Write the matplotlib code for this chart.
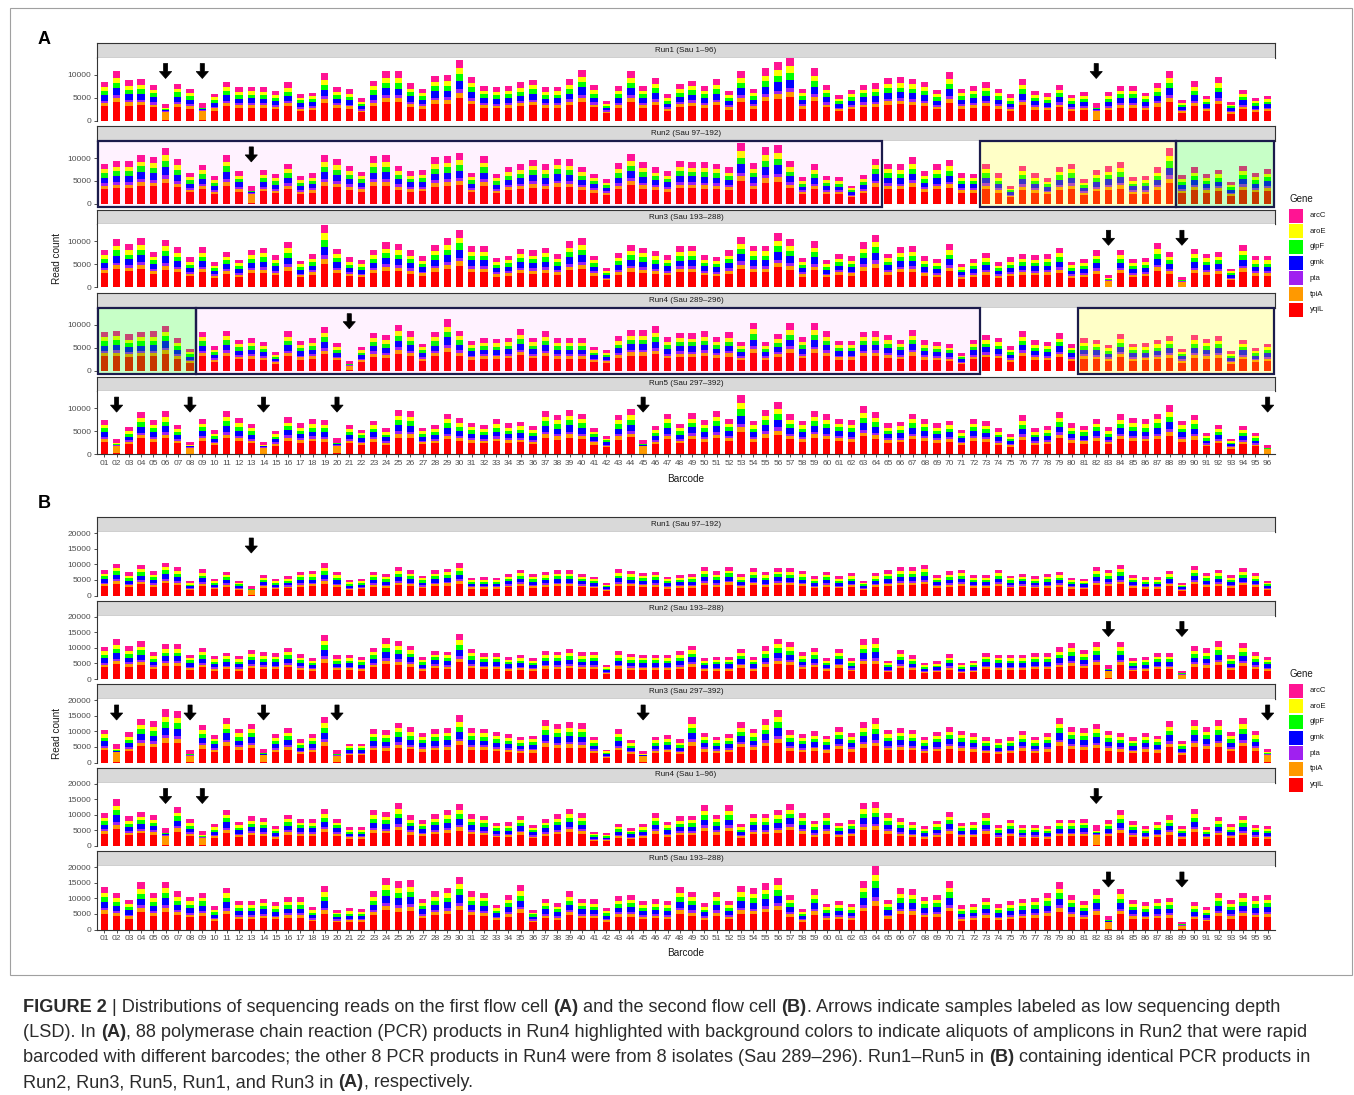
import numpy as np
import matplotlib
matplotlib.use('Agg')
import matplotlib.pyplot as plt
from matplotlib.patches import Rectangle, Polygon
from matplotlib.transforms import blended_transform_factory
from matplotlib.font_manager import FontProperties

plt.rcParams['font.family'] = ['Liberation Sans', 'DejaVu Sans']

# ---------------- data ----------------
GENES = ['yqiL', 'tpiA', 'pta', 'gmk', 'glpF', 'aroE', 'arcC']          # bottom -> top
GENE_COLORS = ['#FF0000', '#FF9900', '#A020F0', '#0000FF', '#00FF00', '#FFFF00', '#FF1493']
NORMAL_FRAC = [0.37, 0.08, 0.06, 0.14, 0.11, 0.10, 0.14]
LSD_FRAC = [0.04, 0.50, 0.04, 0.05, 0.06, 0.04, 0.27]
barcodes = [f'{i:02d}' for i in range(1, 97)]

A_titles = ['Run1 (Sau 1\u201396)', 'Run2 (Sau 97\u2013192)', 'Run3 (Sau 193\u2013288)',
            'Run4 (Sau 289\u2013296)', 'Run5 (Sau 297\u2013392)']
B_titles = ['Run1 (Sau 97\u2013192)', 'Run2 (Sau 193\u2013288)', 'Run3 (Sau 297\u2013392)',
            'Run4 (Sau 1\u201396)', 'Run5 (Sau 193\u2013288)']

A_run1 = [8500, 10900, 8800, 8950, 7750, 3600, 8050, 6900, 3850, 5850,
          8400, 7300, 7400, 7300, 6500, 8300, 5800, 6100, 10300, 7300,
          6800, 4800, 8700, 10800, 10700, 8100, 6900, 9800, 10000, 13300,
          9500, 7500, 7200, 7600, 8300, 8900, 7300, 7400, 9000, 11100,
          7700, 4300, 7500, 10800, 7500, 9200, 5700, 8000, 8650, 7500,
          8950, 6450, 10900, 6900, 11400, 12800, 13740, 6900, 11400, 7750,
          5550, 6700, 7750, 8100, 9300, 9450, 9150, 8500, 6700, 10600,
          6900, 7600, 8350, 6900, 5700, 8950, 6450, 5950, 7750, 5650,
          6250, 3850, 6300, 7600, 7500, 6100, 8250, 10800, 4450, 8550,
          5400, 9450, 4050, 6750, 4950, 5400]
A_run2 = [8750, 9350, 9350, 10750, 10300, 12300, 9800, 6800, 8500, 6000,
          10750, 7200, 4000, 7350, 6450, 8750, 6000, 6650, 10600, 9850,
          8300, 7050, 10450, 10600, 8300, 7200, 7350, 10150, 10450, 11050,
          6800, 10450, 6450, 8100, 8600, 9650, 8600, 9900, 9700, 8100,
          6600, 5350, 8850, 10900, 9050, 7950, 7200, 9350, 9200, 9050,
          8750, 7950, 13300, 8900, 12450, 12900, 9250, 5800, 8600, 6000,
          5800, 4000, 6350, 9900, 8800, 8600, 10150, 7100, 8600, 9500,
          6650, 6600, 8750, 6650, 3900, 8300, 6650, 5650, 8150, 8800,
          5400, 7400, 8200, 9050, 5850, 6000, 7950, 12200, 6350, 7950,
          6600, 7500, 4800, 8350, 6800, 7650]
A_run3 = [8200, 10600, 9350, 10750, 7800, 10350, 8750, 6500, 8750, 5500,
          7800, 6050, 8200, 8600, 7050, 9850, 5800, 7200, 13650, 8450,
          6500, 5900, 8200, 9800, 9350, 8050, 6750, 9200, 10750, 12600,
          9050, 9050, 6350, 6900, 8450, 8050, 8600, 7200, 10050, 10800,
          6900, 4150, 7500, 9200, 8600, 7950, 7050, 8900, 9100, 7050,
          6650, 8050, 11050, 9100, 9100, 11800, 10450, 6350, 10050, 5900,
          7200, 6750, 9800, 11500, 7350, 8750, 8900, 6750, 6200, 9350,
          5100, 6200, 7400, 5500, 6500, 7250, 7050, 7200, 8600, 5550,
          6200, 8050, 2650, 8200, 6200, 6450, 9650, 7800, 2300, 8450,
          7350, 7700, 4050, 9200, 6800, 6800]
A_run4 = [8450, 8750, 7900, 8450, 8600, 9850, 7050, 4750, 8450, 5350,
          8750, 6750, 7050, 6350, 4000, 8600, 6450, 7050, 9550, 6050,
          2050, 5200, 8300, 7700, 10050, 8600, 5900, 8450, 11200, 8750,
          6450, 7050, 6900, 7200, 9050, 7200, 8600, 7050, 7050, 7050,
          5200, 4600, 7500, 8900, 8900, 9650, 7350, 8300, 8150, 8650,
          7400, 8350, 6200, 10450, 6350, 8000, 10350, 7250, 10300, 8650,
          6500, 6500, 8500, 8650, 7700, 6800, 8900, 6600, 6200, 5800,
          3850, 6800, 7800, 7200, 5350, 8650, 6600, 6300, 8150, 5850,
          7050, 6800, 5700, 8050, 5900, 6050, 6650, 7550, 4800, 7700,
          6950, 7600, 4200, 6800, 4950, 5900]
A_run5 = [7400, 3300, 5900, 9200, 7400, 9350, 6400, 2650, 7700, 5200,
          9400, 7850, 6550, 2650, 5050, 8000, 6700, 7550, 7400, 3450,
          6250, 5350, 7300, 5600, 9700, 9500, 5750, 6400, 8800, 7850,
          6800, 6300, 7550, 6700, 7050, 6100, 9500, 8550, 9650, 8800,
          5650, 3950, 8550, 9850, 3100, 6100, 8800, 6550, 8950, 7400,
          9400, 7650, 12950, 7300, 9700, 11400, 8700, 7300, 9500, 8700,
          7700, 7400, 10450, 9100, 6700, 7000, 8800, 7700, 6700, 7300,
          5300, 7700, 7150, 5600, 4350, 8450, 5600, 6050, 9250, 6700,
          6200, 7650, 5900, 8700, 7850, 7550, 8800, 10750, 7300, 8550,
          4550, 6400, 3300, 6050, 4550, 1900]

B_run1 = [8100, 10250, 7400, 9850, 7800, 10600, 9000, 4500, 8450, 5350,
          7700, 4700, 3000, 6500, 5350, 6300, 7700, 7900, 10350, 7500,
          4900, 5250, 7700, 6850, 9100, 8100, 6400, 8100, 8650, 10350,
          5750, 5900, 5750, 7050, 8350, 6850, 7600, 8100, 8100, 7050,
          6100, 4050, 8450, 7900, 7300, 7700, 6000, 6500, 6850, 9000,
          7800, 9300, 6750, 8750, 7500, 8900, 8750, 7900, 6200, 7700,
          6200, 7150, 4800, 7150, 8100, 9000, 9100, 9850, 6650, 7800,
          8350, 6650, 6500, 8250, 6400, 6950, 6300, 6850, 7600, 5750,
          5450, 9000, 8250, 9850, 6650, 5900, 5900, 8000, 4050, 9600,
          7300, 8350, 6650, 8750, 7150, 4800]
B_run2 = [10300, 12800, 10550, 12050, 8600, 11200, 11200, 7850, 10100, 7300,
          8500, 7300, 9250, 8600, 8300, 10100, 7950, 6900, 14200, 7550,
          7750, 7100, 10000, 13100, 12350, 10650, 7000, 9150, 8800, 14400,
          9550, 8400, 8400, 7200, 7750, 6800, 9050, 8800, 9550, 8600,
          8800, 4400, 9050, 8150, 7850, 7850, 7750, 8900, 10750, 6900,
          7200, 7200, 9700, 7200, 10450, 13000, 11950, 8600, 10000, 6900,
          9700, 6650, 12700, 13100, 5800, 9250, 7550, 5150, 5700, 7950,
          5150, 5900, 8300, 7850, 7750, 7750, 8300, 8300, 10200, 11600,
          9350, 11950, 4500, 11950, 6650, 7100, 8400, 8400, 2600, 10450,
          9800, 12050, 7550, 11500, 8600, 7200]
B_run3 = [10550, 6000, 9650, 14100, 13250, 17150, 16600, 3900, 12150, 8900,
          14350, 10850, 12400, 4250, 9000, 11000, 7400, 9000, 14650, 3900,
          6100, 6100, 10650, 10300, 12850, 11300, 9550, 10650, 11100, 15100,
          11100, 10850, 9800, 9000, 8350, 8600, 13800, 12500, 12950, 12700,
          8250, 4150, 10650, 7150, 3600, 8250, 8800, 7400, 14550, 9550,
          8250, 9250, 13050, 10850, 13900, 16950, 10300, 9250, 10000, 8600,
          11500, 9550, 12950, 14250, 10550, 11200, 10550, 8250, 9900, 11500,
          10200, 9550, 8050, 7400, 8050, 10100, 8250, 9450, 14450, 11500,
          11000, 12500, 10200, 9450, 8150, 9450, 8600, 13350, 6850, 13600,
          11500, 13800, 9800, 14250, 10100, 4450]
B_run4 = [10500, 15100, 9500, 10900, 9850, 5900, 12500, 8550, 4800, 6950,
          11650, 7800, 9500, 8900, 6500, 9950, 8750, 8650, 12000, 8750,
          6100, 6100, 11450, 11000, 13700, 9850, 8350, 10150, 11450, 13350,
          10150, 9600, 7400, 7600, 9750, 6750, 8750, 10250, 11900, 10600,
          4500, 4150, 7150, 5750, 6950, 10600, 7700, 9500, 9600, 13050,
          9950, 13050, 6950, 10350, 10350, 11450, 13600, 10600, 8150, 10600,
          7500, 8250, 13700, 14100, 10600, 8900, 7700, 6400, 8050, 10800,
          7500, 7800, 10500, 6650, 8450, 6650, 6750, 6500, 8450, 8450,
          8750, 6750, 8350, 11450, 7900, 6500, 7700, 9850, 6300, 11900,
          6100, 9300, 6950, 9600, 6750, 6300]
B_run5 = [13650, 11650, 9400, 15150, 11650, 15350, 12250, 10500, 11850, 7400,
          13450, 9000, 9200, 9950, 8800, 10350, 10350, 7100, 13850, 6350,
          6750, 6550, 12250, 16600, 15450, 15850, 9950, 12250, 13450, 16950,
          12250, 11850, 7950, 11200, 14300, 6350, 9950, 8550, 12250, 9950,
          9650, 6900, 10800, 11000, 9200, 9650, 9000, 13650, 12050, 8450,
          12050, 9100, 13850, 13200, 14900, 16500, 11200, 6550, 12900, 8250,
          9000, 8350, 15650, 20400, 9400, 13200, 13000, 10600, 11200, 15650,
          7800, 8350, 10250, 8150, 9000, 9750, 10150, 11850, 15250, 11000,
          9000, 12900, 4250, 13100, 9500, 8800, 9950, 10150, 2350, 8800,
          7100, 11850, 9500, 11750, 10700, 11000]

A_lsd = [[6, 9, 82], [13], [83, 89], [21], [2, 8, 14, 20, 45, 96]]
B_lsd = [[13], [83, 89], [2, 8, 14, 20, 45, 96], [6, 9, 82], [83, 89]]

# highlighted barcode ranges (first, last, colour)
A_boxes = [[], [(1, 64, 'pink'), (73, 88, 'yellow'), (89, 96, 'green')], [],
           [(1, 8, 'green'), (9, 72, 'pink'), (81, 96, 'yellow')], []]
B_boxes = [[], [], [], [], []]

A_yticks = [0, 5000, 10000]
B_yticks = [0, 5000, 10000, 15000, 20000]

BOX_STYLE = {'pink': ('#FF00FF', 0.05), 'yellow': ('#FFFF00', 0.22), 'green': ('#00FF00', 0.22)}

# ---------------- figure ----------------
W, H = 1354, 1095
fig = plt.figure(figsize=(W / 100, H / 100), dpi=100)


def px_axes(x0, y0, x1, y1):
    return fig.add_axes([x0 / W, 1 - y1 / H, (x1 - x0) / W, (y1 - y0) / H])


PL, PR = 97, 1275
TICK_C = '#4d4d4d'
LINE_C = '#333333'


def draw_panel(strip_top, strip_h, plot_h, title, totals, lsd, ymax, yticks, boxes, show_x):
    axs = px_axes(PL, strip_top, PR, strip_top + strip_h)
    axs.set_facecolor('#d9d9d9')
    axs.set_xticks([]); axs.set_yticks([])
    for sp in axs.spines.values():
        sp.set_color(LINE_C); sp.set_linewidth(0.8)
    axs.text(0.5, 0.5, title, transform=axs.transAxes, ha='center', va='center',
             fontsize=5.8, color='#1a1a1a')

    ax = px_axes(PL, strip_top + strip_h, PR, strip_top + strip_h + plot_h)
    x = np.arange(1, 97)
    tot = np.array(totals, dtype=float)
    is_lsd = np.isin(x, lsd)
    frac = np.where(is_lsd[:, None], np.array(LSD_FRAC)[None, :], np.array(NORMAL_FRAC)[None, :])
    seg = tot[:, None] * frac
    bottom = np.zeros(96)
    for g in range(len(GENES)):
        ax.bar(x, seg[:, g], bottom=bottom, width=0.6, color=GENE_COLORS[g], linewidth=0, zorder=2)
        bottom += seg[:, g]
    ax.set_xlim(0.4, 96.6)
    ax.set_ylim(0, ymax)
    ax.set_facecolor('white')
    ax.spines['top'].set_visible(False)
    ax.spines['right'].set_visible(False)
    ax.spines['left'].set_color(LINE_C); ax.spines['left'].set_linewidth(0.8)
    ax.set_yticks(yticks)
    ax.set_yticklabels([str(v) for v in yticks])
    ax.tick_params(axis='y', length=2.5, width=0.6, color=LINE_C, labelsize=6,
                   labelcolor=TICK_C, pad=1.5)
    if show_x:
        ax.spines['bottom'].set_color(LINE_C); ax.spines['bottom'].set_linewidth(0.8)
        ax.set_xticks(x)
        ax.set_xticklabels(barcodes)
        ax.tick_params(axis='x', length=2.5, width=0.6, color=LINE_C, labelsize=6,
                       labelcolor=TICK_C, pad=1.5)
    else:
        ax.spines['bottom'].set_visible(False)
        ax.set_xticks([])

    tr = blended_transform_factory(ax.transData, ax.transAxes)
    for (s, e, c) in boxes:
        col, alpha = BOX_STYLE[c]
        ax.add_patch(Rectangle((s - 0.5, -0.05), e - s + 1, 1.05, transform=tr, facecolor=col,
                               alpha=alpha, edgecolor='none', zorder=5, clip_on=False))
        ax.add_patch(Rectangle((s - 0.5, -0.05), e - s + 1, 1.05, transform=tr, facecolor='none',
                               edgecolor='#1b1b4b', linewidth=1.6, zorder=6, clip_on=False))

    yt = 1 - 6 / plot_h
    yn = yt - 8 / plot_h
    ytip = yt - 15 / plot_h
    hw, hh = 0.17, 0.5
    for i in lsd:
        pts = [(i - hw, yt), (i + hw, yt), (i + hw, yn), (i + hh, yn), (i, ytip),
               (i - hh, yn), (i - hw, yn)]
        ax.add_patch(Polygon(pts, closed=True, transform=tr, facecolor='black',
                             edgecolor='black', linewidth=0.5, zorder=7, clip_on=False))


A_runs = [A_run1, A_run2, A_run3, A_run4, A_run5]
B_runs = [B_run1, B_run2, B_run3, B_run4, B_run5]
A_max = max(max(r) for r in A_runs)
B_max = max(max(r) for r in B_runs)

for k in range(5):
    draw_panel(43 + k * 83.4, 14.5, 63, A_titles[k], A_runs[k], A_lsd[k], A_max, A_yticks,
               A_boxes[k], k == 4)
for k in range(5):
    draw_panel(517 + k * 83.5, 15, 63.5, B_titles[k], B_runs[k], B_lsd[k], B_max, B_yticks,
               B_boxes[k], k == 4)

# ---------------- overlay (labels, legends, frame, caption) ----------------
ov = fig.add_axes([0, 0, 1, 1])
ov.set_xlim(0, W); ov.set_ylim(H, 0)
ov.axis('off')
ov.patch.set_alpha(0)

ov.add_patch(Rectangle((10, 8), 1342, 967, facecolor='none', edgecolor='#a0a0a0', linewidth=0.8))

ov.text(44, 40, 'A', fontsize=13, fontweight='bold', ha='center', va='center', color='black')
ov.text(44, 503, 'B', fontsize=13, fontweight='bold', ha='center', va='center', color='black')
for (yc, xl) in [(258, 479), (733, 953)]:
    ov.text(57, yc, 'Read count', rotation=90, fontsize=7.2, ha='center', va='center', color='#1a1a1a')
    ov.text(686, xl, 'Barcode', fontsize=7.2, ha='center', va='center', color='#1a1a1a')

for gy in [199, 674]:
    ov.text(1289, gy, 'Gene', fontsize=7, ha='left', va='center', color='#1a1a1a')
    for j, g in enumerate(reversed(range(len(GENES)))):
        cy = gy + 16.5 + j * 15.7
        ov.add_patch(Rectangle((1289, cy - 7), 14, 14, facecolor=GENE_COLORS[g], edgecolor='none'))
        ov.text(1310, cy, GENES[g], fontsize=5.6, ha='left', va='center', color='#1a1a1a')

# caption
cap_lines = [
    [("FIGURE 2", True), (" | Distributions of sequencing reads on the first flow cell ", False), ("(A)", True),
     (" and the second flow cell ", False), ("(B)", True),
     (". Arrows indicate samples labeled as low sequencing depth", False)],
    [("(LSD). In ", False), ("(A)", True),
     (", 88 polymerase chain reaction (PCR) products in Run4 highlighted with background colors to indicate "
      "aliquots of amplicons in Run2 that were rapid", False)],
    [("barcoded with different barcodes; the other 8 PCR products in Run4 were from 8 isolates (Sau 289\u2013296). "
      "Run1\u2013Run5 in ", False), ("(B)", True), (" containing identical PCR products in", False)],
    [("Run2, Run3, Run5, Run1, and Run3 in ", False), ("(A)", True), (", respectively.", False)],
]
renderer = fig.canvas.get_renderer()
CAP_FAMILY = 'Liberation Sans'


def text_w(s, size, bold):
    fp = FontProperties(family=CAP_FAMILY, size=size, weight='bold' if bold else 'normal')
    w, h, d = renderer.get_text_width_height_descent(s, fp, ismath=False)
    return w


def space_w(size, bold):
    return text_w('x x', size, bold) - text_w('xx', size, bold)


def run_width(runs, size):
    total = 0.0
    for s, b in runs:
        lead = len(s) - len(s.lstrip(' '))
        trail = len(s) - len(s.rstrip(' '))
        total += (lead + trail) * space_w(size, b) + text_w(s.strip(' '), size, b)
    return total


base = 12.0
measured = sum(run_width(cap_lines[i], base) for i in range(3))
cap_size = base * (1269.0 + 1279.0 + 1287.0) / measured


def draw_runs(runs, x0, y, size):
    x = x0
    for s, b in runs:
        lead = len(s) - len(s.lstrip(' '))
        trail = len(s) - len(s.rstrip(' '))
        x += lead * space_w(size, b)
        core = s.strip(' ')
        ov.text(x, y, core, fontsize=size, fontweight='bold' if b else 'normal', family=CAP_FAMILY,
                ha='left', va='baseline', color='#2b2b2b')
        x += text_w(core, size, b)
        x += trail * space_w(size, b)


for li, runs in enumerate(cap_lines):
    draw_runs(runs, 23, 1012 + li * 25, cap_size)

fig.savefig('out.png', dpi=100)
